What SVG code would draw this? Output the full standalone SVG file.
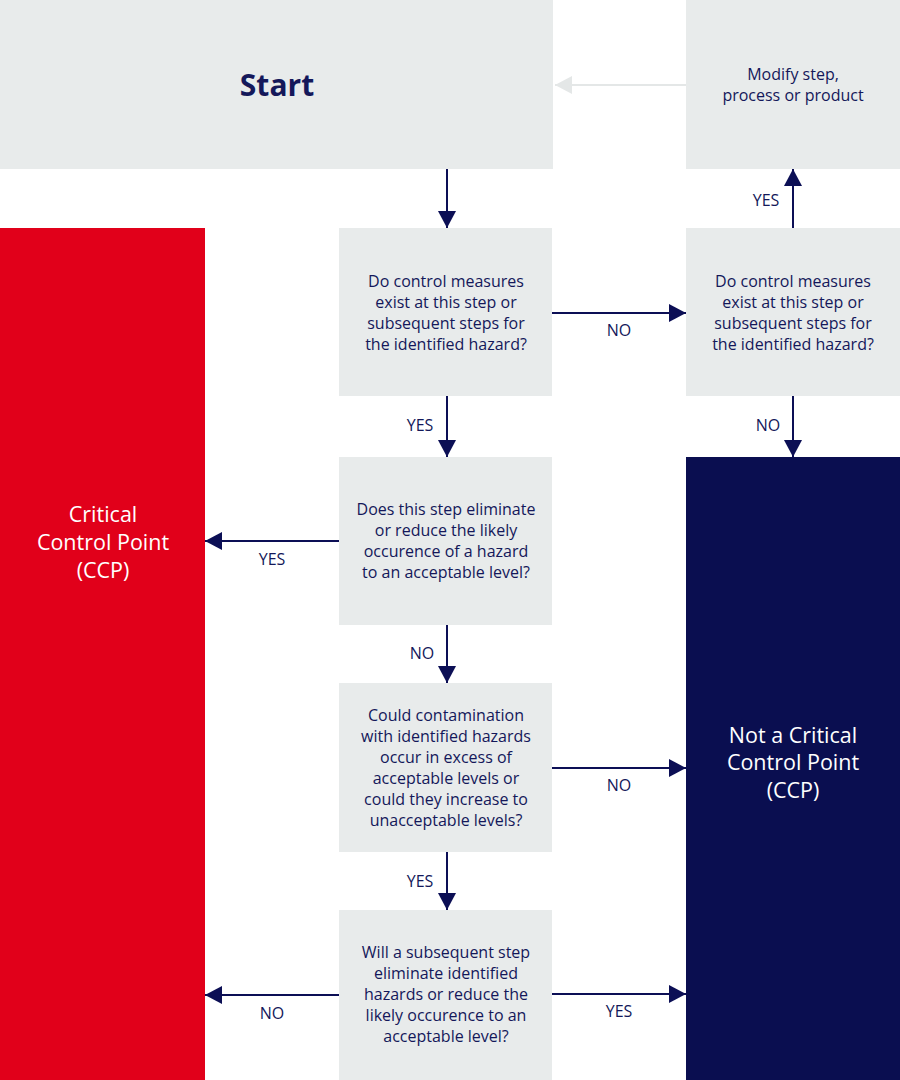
<svg xmlns="http://www.w3.org/2000/svg" width="900" height="1080" viewBox="0 0 900 1080">
<style>
.box{fill:#e8ebeb}
.t{font-family:"Open Sans","Liberation Sans",sans-serif;font-size:16px;fill:#14185a;text-anchor:middle}
.big{font-family:"Open Sans","Liberation Sans",sans-serif;font-size:21.5px;font-weight:500;fill:#ffffff;text-anchor:middle}
.lbl{font-family:"Open Sans","Liberation Sans",sans-serif;font-size:16px;fill:#14185a;text-anchor:middle}
.c{stroke:#0c0f55;stroke-width:2;fill:none;marker-end:url(#ah)}
</style>
<defs>
<marker id="ah" markerUnits="userSpaceOnUse" markerWidth="18" markerHeight="18" refX="17" refY="9" orient="auto">
<path d="M0,0 L17,9 L0,18 Z" fill="#0c0f55"/>
</marker>
<marker id="ahg" markerUnits="userSpaceOnUse" markerWidth="18" markerHeight="18" refX="17" refY="9" orient="auto">
<path d="M0,0 L17,9 L0,18 Z" fill="#e4e7e7"/>
</marker>
</defs>
<g id="start"><rect class="box" x="0" y="0" width="553" height="169"/><text x="277" y="96" font-family="Open Sans,Liberation Sans,sans-serif" font-size="30" font-weight="bold" fill="#14185a" text-anchor="middle">Start</text></g>
<g id="modify"><rect class="box" x="686" y="0" width="214" height="169"/><text class="t" x="793" y="80">Modify step,</text><text class="t" x="793" y="101">process or product</text></g>
<g id="q1"><rect class="box" x="339" y="228" width="213" height="168"/><text class="t" x="446" y="287">Do control measures</text><text class="t" x="446" y="308">exist at this step or</text><text class="t" x="446" y="329">subsequent steps for</text><text class="t" x="446" y="350">the identified hazard?</text></g>
<g id="q1r"><rect class="box" x="686" y="228" width="214" height="168"/><text class="t" x="793" y="287">Do control measures</text><text class="t" x="793" y="308">exist at this step or</text><text class="t" x="793" y="329">subsequent steps for</text><text class="t" x="793" y="350">the identified hazard?</text></g>
<g id="ccp"><rect x="0" y="228" width="205" height="852" fill="#e1001a"/><text class="big" x="103" y="522">Critical</text><text class="big" x="103" y="550">Control Point</text><text class="big" x="103" y="578">(CCP)</text></g>
<g id="notccp"><rect x="686" y="457" width="214" height="623" fill="#0a0e50"/><text class="big" x="793" y="743">Not a Critical</text><text class="big" x="793" y="770">Control Point</text><text class="big" x="793" y="798">(CCP)</text></g>
<g id="q2"><rect class="box" x="339" y="457" width="213" height="168"/><text class="t" x="446" y="515">Does this step eliminate</text><text class="t" x="446" y="536">or reduce the likely</text><text class="t" x="446" y="557">occurence of a hazard</text><text class="t" x="446" y="578">to an acceptable level?</text></g>
<g id="q3"><rect class="box" x="339" y="683" width="213" height="169"/><text class="t" x="446" y="721">Could contamination</text><text class="t" x="446" y="742">with identified hazards</text><text class="t" x="446" y="763">occur in excess of</text><text class="t" x="446" y="784">acceptable levels or</text><text class="t" x="446" y="805">could they increase to</text><text class="t" x="446" y="826">unacceptable levels?</text></g>
<g id="q4"><rect class="box" x="339" y="910" width="213" height="170"/><text class="t" x="446" y="958">Will a subsequent step</text><text class="t" x="446" y="979">eliminate identified</text><text class="t" x="446" y="1000">hazards or reduce the</text><text class="t" x="446" y="1021">likely occurence to an</text><text class="t" x="446" y="1042">acceptable level?</text></g>
<g id="connectors">
<line x1="686" y1="85" x2="555" y2="85" stroke="#e4e7e7" stroke-width="2" marker-end="url(#ahg)"/>
<line class="c" x1="447" y1="169" x2="447" y2="228"/>
<line class="c" x1="552" y1="313" x2="686" y2="313"/>
<line class="c" x1="793" y1="228" x2="793" y2="169"/>
<line class="c" x1="793" y1="396" x2="793" y2="457"/>
<line class="c" x1="447" y1="396" x2="447" y2="457"/>
<line class="c" x1="339" y1="541" x2="205" y2="541"/>
<line class="c" x1="447" y1="625" x2="447" y2="683"/>
<line class="c" x1="552" y1="768" x2="686" y2="768"/>
<line class="c" x1="447" y1="852" x2="447" y2="910"/>
<line class="c" x1="339" y1="995" x2="205" y2="995"/>
<line class="c" x1="552" y1="994" x2="686" y2="994"/>
<text class="lbl" x="619" y="336">NO</text>
<text class="lbl" x="766" y="206">YES</text>
<text class="lbl" x="768" y="431">NO</text>
<text class="lbl" x="420" y="431">YES</text>
<text class="lbl" x="272" y="565">YES</text>
<text class="lbl" x="422" y="659">NO</text>
<text class="lbl" x="619" y="791">NO</text>
<text class="lbl" x="420" y="887">YES</text>
<text class="lbl" x="272" y="1019">NO</text>
<text class="lbl" x="619" y="1017">YES</text>
</g>
</svg>
